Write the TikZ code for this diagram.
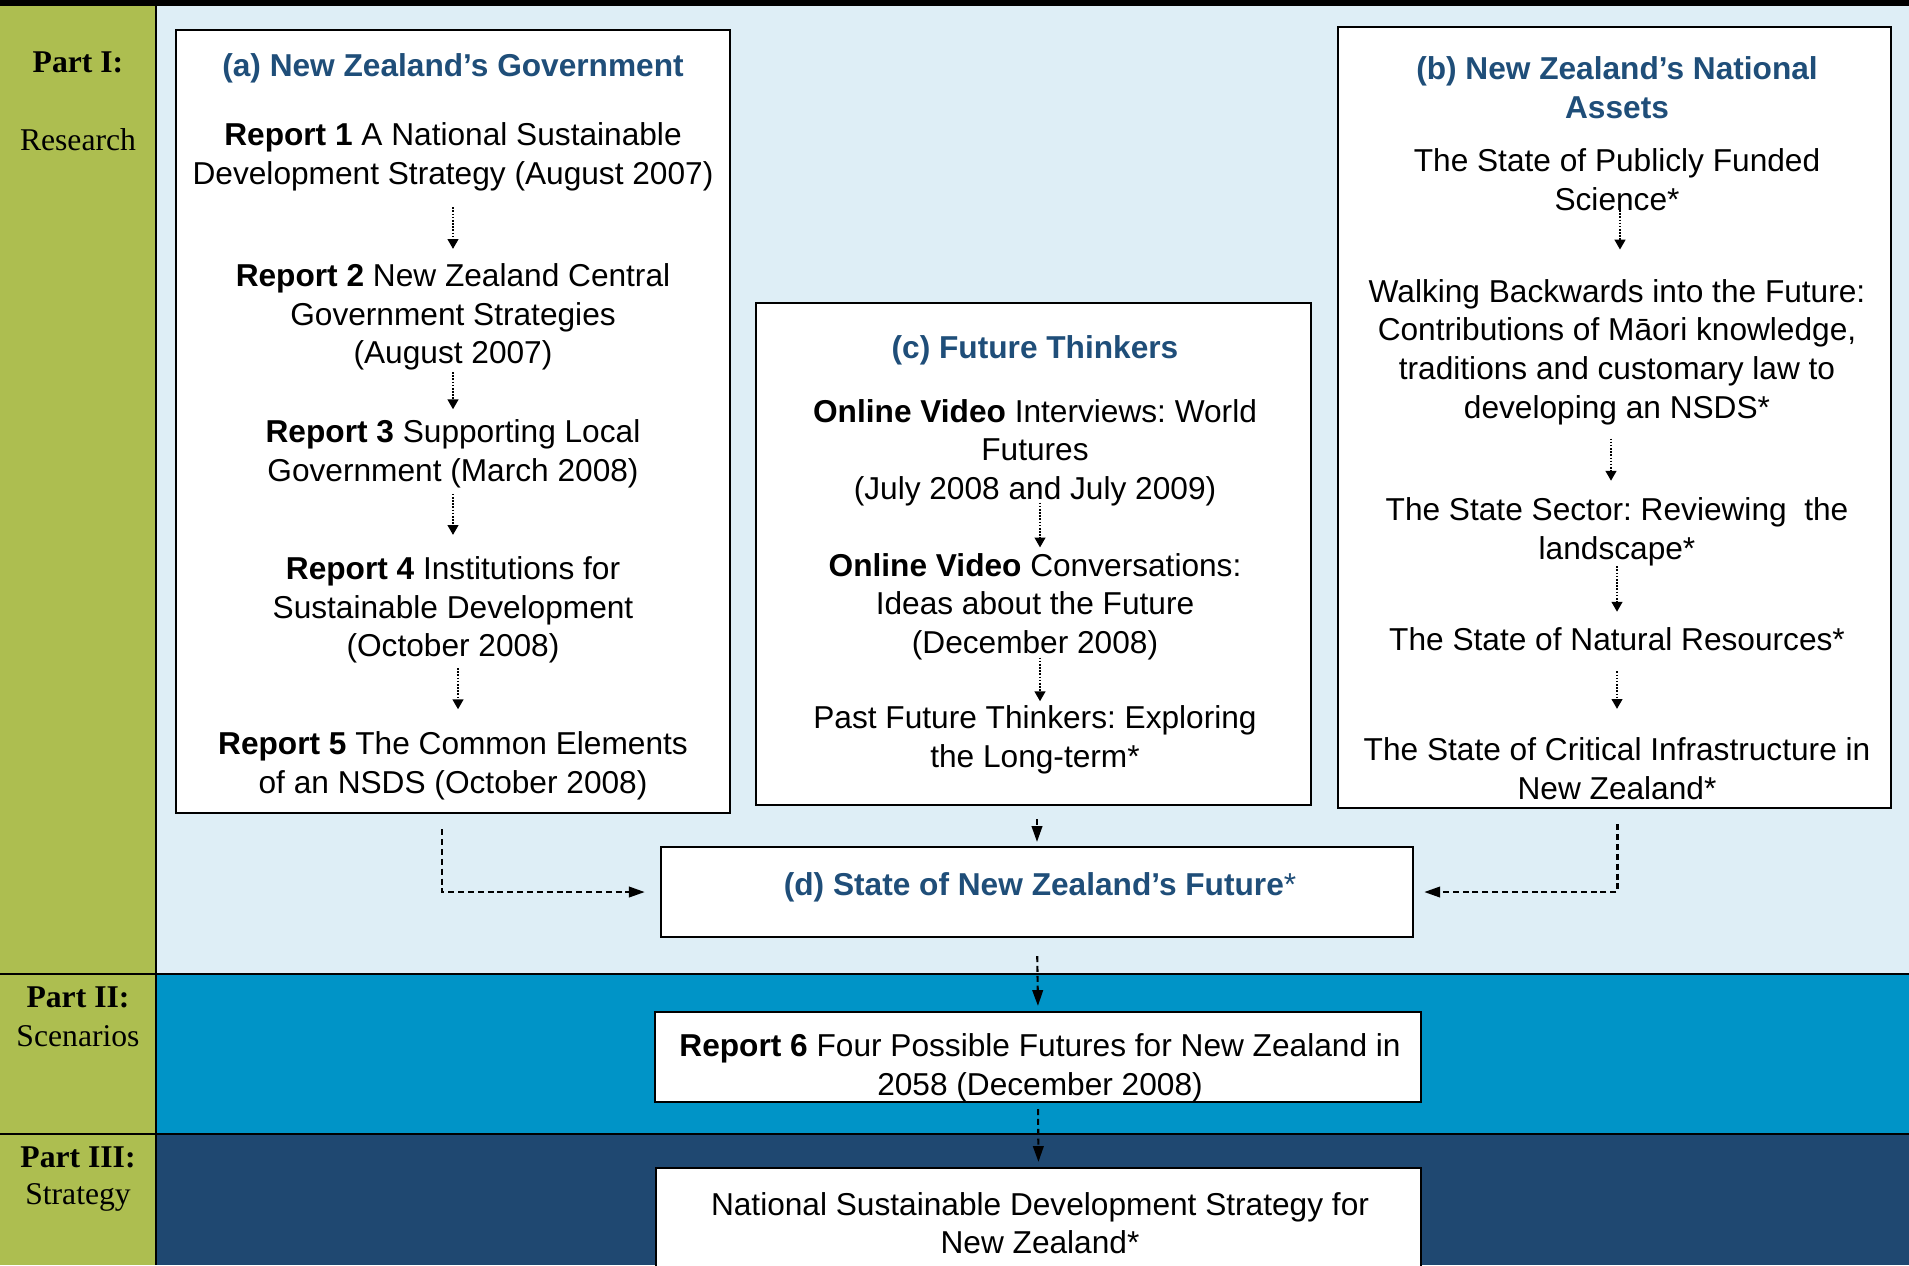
\documentclass[tikz,border=0pt]{standalone}
\usepackage{fontspec}
\setmainfont{Liberation Sans}
\newfontfamily\partfont{Liberation Serif}
\usetikzlibrary{arrows.meta}
\frenchspacing

\definecolor{partgreen}{RGB}{173,190,80}
\definecolor{researchbg}{RGB}{222,238,246}
\definecolor{scenariobg}{RGB}{0,148,199}
\definecolor{strategybg}{RGB}{31,72,113}
\definecolor{headblue}{RGB}{31,78,121}

\tikzset{
    box/.style={draw=black, line width=0.6pt, fill=white, inner sep=0pt},
    txt/.style={align=center, inner sep=0pt, yshift=-0.03cm, font=\fontsize{9}{11}\selectfont},
    head/.style={txt, text=headblue, font=\fontsize{9}{11}\selectfont\bfseries},
    part/.style={inner sep=0pt, align=center, font=\partfont\fontsize{9}{11}\selectfont},
    dotflow/.style={-{Triangle[length=2.8pt,width=3.1pt]}, line width=0.4pt, dash pattern=on 0.45pt off 0.45pt},
    flow/.style={-{Triangle[length=4.5pt,width=3pt]}, line width=0.6pt, dash pattern=on 1.7pt off 1.1pt}
}

\begin{document}
\begin{tikzpicture}[x=0.01cm, y=-0.01cm]
    \useasboundingbox (0,0) rectangle (1909,1265);
    \clip (0,0) rectangle (1909,1265);

    % bands
    \fill[black] (0,0) rectangle (1909,6);
    \fill[partgreen] (0,6) rectangle (156,1265);
    \fill[researchbg] (156,6) rectangle (1909,974);
    \fill[scenariobg] (156,974) rectangle (1909,1134);
    \fill[strategybg] (156,1134) rectangle (1909,1265);
    \draw[line width=0.6pt] (156,6) -- (156,1265);
    \draw[line width=0.8pt] (0,974) -- (1909,974);
    \draw[line width=0.8pt] (0,1134) -- (1909,1134);

    % part labels
    \node[part] (p1) at (78,62) {\bfseries Part I:};
    \node[part] (p1s) at (78,140) {Research};
    \node[part] (p2) at (78,997) {\bfseries Part II:};
    \node[part] (p2s) at (78,1036) {Scenarios};
    \node[part] (p3) at (78,1157) {\bfseries Part III:};
    \node[part] (p3s) at (78,1197) {Strategy};

    % boxes
    \node[box, minimum width=5.54cm, minimum height=7.83cm] (boxA) at (453,421.5) {};
    \node[box, minimum width=5.55cm, minimum height=5.02cm] (boxC) at (1033.5,554) {};
    \node[box, minimum width=5.53cm, minimum height=7.81cm] (boxB) at (1614.5,417.5) {};
    \node[box, minimum width=7.52cm, minimum height=0.90cm] (boxD) at (1037,892) {};
    \node[box, minimum width=7.66cm, minimum height=0.90cm] (report6) at (1038,1057) {};
    \node[box, minimum width=7.65cm, minimum height=1.22cm] (nsds) at (1038.5,1229) {};

    % (a) government
    \node[head] (ta) at (453,65) {(a) New Zealand’s Government};
    \node[txt] (r1) at (453,153.5) {\textbf{Report 1} A National Sustainable\\Development Strategy (August 2007)};
    \node[txt] (r2) at (453,314) {\textbf{Report 2} New Zealand Central\\Government Strategies\\(August 2007)};
    \node[txt] (r3) at (453,451) {\textbf{Report 3} Supporting Local\\Government (March 2008)};
    \node[txt] (r4) at (453,607) {\textbf{Report 4} Institutions for\\Sustainable Development\\(October 2008)};
    \node[txt] (r5) at (453,763) {\textbf{Report 5} The Common Elements\\of an NSDS (October 2008)};

    % (c) future thinkers
    \node[head] (tc) at (1035,347) {(c) Future Thinkers};
    \node[txt] (c1) at (1035,449.5) {\textbf{Online Video} Interviews: World\\Futures\\(July 2008 and July 2009)};
    \node[txt] (c2) at (1035,603.5) {\textbf{Online Video} Conversations:\\Ideas about the Future\\(December 2008)};
    \node[txt] (c3) at (1035,737) {Past Future Thinkers: Exploring\\the Long-term*};

    % (b) national assets
    \node[head] (tb) at (1617,84.5) {(b) New Zealand’s National\\Assets};
    \node[txt] (b1) at (1617,177) {The State of Publicly Funded\\Science*};
    \node[txt] (b2) at (1617,349) {Walking Backwards into the Future:\\Contributions of Māori knowledge,\\traditions and customary law to\\developing an NSDS*};
    \node[txt] (b3) at (1617,528.5) {The State Sector: Reviewing\ \ the\\landscape*};
    \node[txt] (b4) at (1617,636) {The State of Natural Resources*};
    \node[txt] (b5) at (1617,765.5) {The State of Critical Infrastructure in\\New Zealand*};

    % (d), report 6, strategy
    \node[head] (td) at (1040,884) {(d) State of New Zealand’s Future\mdseries*};
    \node[txt] (t6) at (1040,1065) {\textbf{Report 6} Four Possible Futures for New Zealand in\\2058 (December 2008)};
    \node[txt] (tn) at (1040,1220) {National Sustainable Development Strategy for\\New Zealand*};

    % links inside the boxes
    \draw[dotflow, shorten <=0.16cm, shorten >=0.14cm] (r1.south) -- (r2.north);
    \draw[dotflow, shorten <=0.01cm, shorten >=0.10cm] (r2.south) -- (r3.north);
    \draw[dotflow, shorten <=0.05cm, shorten >=0.21cm] (r3.south) -- (r4.north);
    \draw[dotflow, shorten <=0.04cm, shorten >=0.22cm] ([xshift=0.05cm]r4.south) -- ([xshift=0.05cm]r5.north);

    \draw[dotflow, shorten <=-0.04cm, shorten >=0.05cm] ([xshift=0.05cm]c1.south) -- ([xshift=0.05cm]c2.north);
    \draw[dotflow, shorten <=-0.03cm, shorten >=0.04cm] ([xshift=0.05cm]c2.south) -- ([xshift=0.05cm]c3.north);

    \draw[dotflow, shorten <=-0.08cm, shorten >=0.29cm] ([xshift=0.03cm]b1.south) -- ([xshift=0.03cm]b2.north);
    \draw[dotflow, shorten <=0.13cm, shorten >=0.16cm] ([xshift=-0.06cm]b2.south) -- ([xshift=-0.06cm]b3.north);
    \draw[dotflow, shorten <=0cm, shorten >=0.15cm] (b3.south) -- (b4.north);
    \draw[dotflow, shorten <=0.2cm, shorten >=0.28cm] (b4.south) -- (b5.north);

    % links between the boxes
    \draw[flow, shorten >=0.15cm] ([xshift=-0.11cm,yshift=-0.15cm]boxA.south) |- (boxD.west);
    \draw[flow, shorten >=0.10cm] ([xshift=0.03cm,yshift=-0.15cm]boxB.south) |- (boxD.east);
    \draw[flow, shorten <=0.13cm, shorten >=0.04cm] (boxC.south -| boxD.north) -- (boxD.north);
    \draw[flow, shorten <=0.18cm, shorten >=0.05cm] (boxD.south) -- (report6.north);
    \draw[flow, shorten <=0.06cm, shorten >=0.05cm] (report6.south) -- (nsds.north);
\end{tikzpicture}
\end{document}
